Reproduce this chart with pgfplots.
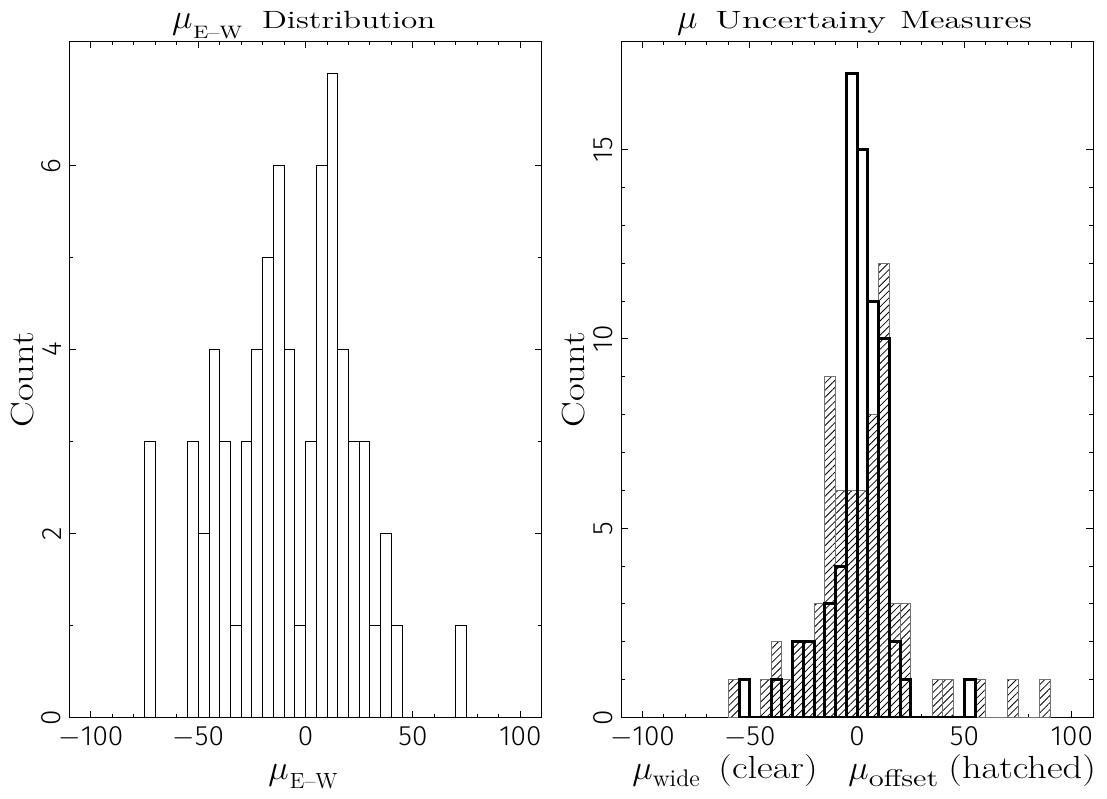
\documentclass[border=0pt]{standalone}
\usepackage{fontspec}
\usepackage{pgfplots}
\pgfplotsset{compat=1.18}
\usetikzlibrary{patterns.meta}
\newfontfamily\tickff{Fira Sans Light}

\newcommand{\tickfont}{\fontsize{14}{16}\selectfont\tickff}
\newcommand{\labfont}{\fontsize{16}{18}\selectfont}
\newcommand{\titfont}{\fontsize{12.5}{14}\selectfont}
\newcommand{\mufont}{\fontsize{17.28}{18}\selectfont}

\pgfplotstableread{
x y
-75 3
-70 0
-65 0
-60 0
-55 3
-50 2
-45 4
-40 3
-35 1
-30 3
-25 4
-20 5
-15 6
-10 4
-5 1
0 3
5 6
10 7
15 4
20 3
25 3
30 1
35 2
40 1
45 0
50 0
55 0
60 0
65 0
70 1
75 0
}\ewtable

\pgfplotstableread{
x y
-55 1
-50 0
-45 0
-40 1
-35 0
-30 2
-25 2
-20 0
-15 3
-10 4
-5 17
0 15
5 11
10 10
15 2
20 1
25 0
30 0
35 0
40 0
45 0
50 1
55 0
}\widetable

\pgfplotstableread{
x y
-60 1
-55 0
-50 0
-45 1
-40 2
-35 1
-30 2
-25 2
-20 3
-15 9
-10 6
-5 6
0 6
5 8
10 12
15 3
20 3
25 0
30 0
35 1
40 1
45 0
50 0
55 1
60 0
65 0
70 1
75 0
80 0
85 1
90 0
}\offtable

\pgfplotsset{
  histo/.style={
    scale only axis, width=236.1pt, height=337.9pt,
    anchor=south west,
    xmin=-110, xmax=110, ymin=0,
    xtick={-100,-50,0,50,100},
    xticklabels={$-$100,$-$50,0,50,100},
    minor x tick num=4,
    tick align=inside, xtick pos=both, ytick pos=both,
    major tick length=3.4pt, minor tick length=1.9pt,
    every tick/.style={black, line width=0.5pt},
    axis line style={line width=0.5pt},
    xticklabel style={font=\tickfont, anchor=north, inner sep=0pt, yshift=-4.5pt},
    yticklabel style={font=\tickfont, inner sep=0pt, xshift=-3.9pt, rotate=90, anchor=south},
  }
}

\begin{document}
\begin{tikzpicture}
\begin{axis}[histo, at={(34.75pt,40.25pt)},
  ymax=7.35, ytick={0,2,4,6}, yticklabels={0,2,4,6}, minor y tick num=1]
  \addplot[ybar interval, draw=black, line width=0.5pt, fill=none] table[x=x,y=y] {\ewtable};
\end{axis}

\begin{axis}[histo, at={(310.5pt,40.25pt)},
  ymax=17.85, ytick={0,5,10,15}, yticklabels={0,5,10,15}, minor y tick num=4]
  \addplot[ybar interval, draw=black!55, line width=0.5pt,
    pattern={Lines[angle=45,distance=2.5pt,line width=0.4pt]}, pattern color=black] table[x=x,y=y] {\offtable};
  \addplot[ybar interval, draw=black, line width=1.5pt, fill=none] table[x=x,y=y] {\widetable};
\end{axis}

% titles
\node[anchor=base west, inner sep=0pt] at (85.85pt,384.85pt) {\mufont$\mu$\kern0.4pt\raisebox{-5pt}{\fontsize{9}{10}\selectfont\scalebox{1.2}[1]{E--W}}};
\node[anchor=base west, inner sep=0pt] at (130.85pt,384.85pt) {\titfont\scalebox{1.33}[1]{Distribution}};

\node[anchor=base west, inner sep=0pt] at (338.35pt,384.85pt) {\mufont$\mu$};
\node[anchor=base west, inner sep=0pt] at (357.5pt,384.85pt) {\titfont\scalebox{1.45}[1]{Uncertainy}};
\node[anchor=base west, inner sep=0pt] at (450pt,384.85pt) {\titfont\scalebox{1.33}[1]{Measures}};

% y labels
\node[rotate=90, anchor=base, inner sep=0pt] at (16.65pt,209pt) {\labfont\scalebox{1.2}[1]{Count}};
\node[rotate=90, anchor=base, inner sep=0pt] at (292.4pt,209pt) {\labfont\scalebox{1.2}[1]{Count}};

% x labels
\node[anchor=base west, inner sep=0pt] at (134pt,9.5pt) {\mufont$\mu$\kern0.6pt\raisebox{-4.5pt}{\fontsize{11}{12}\selectfont E--W}};

\node[anchor=base west, inner sep=0pt] at (316pt,9.5pt) {\mufont$\mu$\raisebox{-3.5pt}{\fontsize{12}{13}\selectfont wide}};
\node[anchor=base west, inner sep=0pt] at (359pt,10pt) {\labfont\scalebox{1.2}[1]{(clear)}};
\node[anchor=base west, inner sep=0pt] at (424pt,9.5pt) {\mufont$\mu$\raisebox{-3.5pt}{\fontsize{12}{13}\selectfont\scalebox{1.28}[1]{offset}}};
\node[anchor=base west, inner sep=0pt] at (474pt,10pt) {\labfont\scalebox{1.2}[1]{(hatched)}};

\pgfresetboundingbox
\path[use as bounding box] (0,0) rectangle (553.5pt,399pt);
\end{tikzpicture}
\end{document}
